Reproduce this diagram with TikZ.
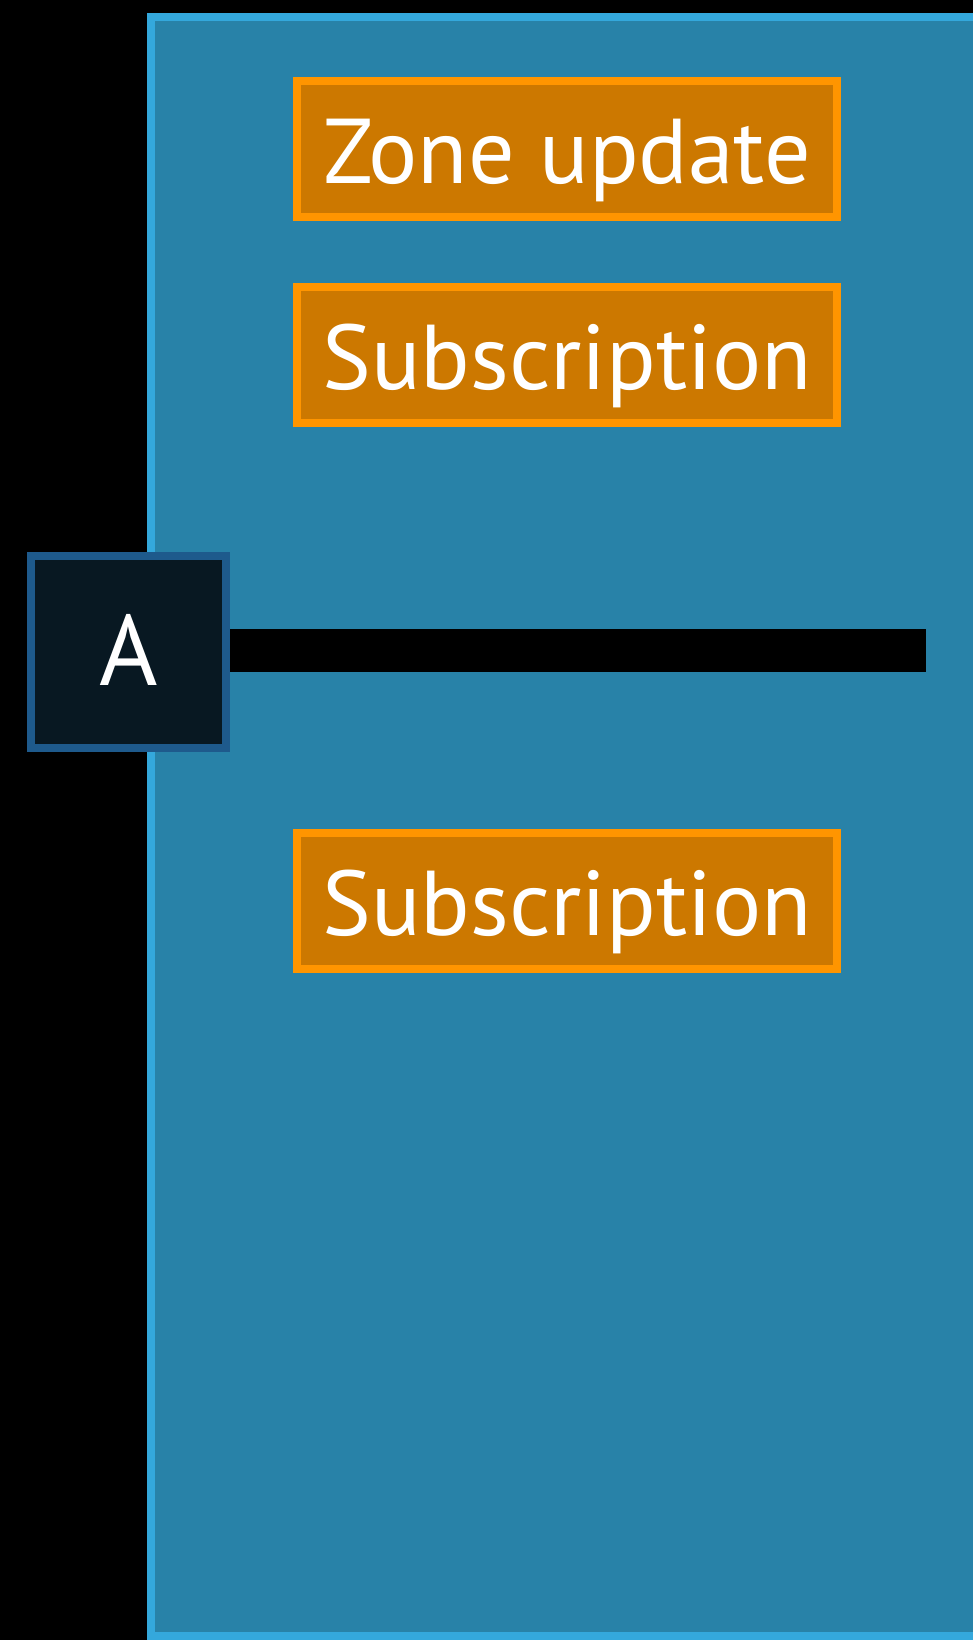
\documentclass[tikz,border=0pt]{standalone}
\usepackage{fontspec}
\setmainfont{PT Sans}
\usepackage{xcolor}
\usepackage{tikz}
\usetikzlibrary{positioning}

\definecolor{panelfill}{HTML}{2882A8}
\definecolor{panelline}{HTML}{34A8DC}
\definecolor{msgfill}{HTML}{CC7800}
\definecolor{msgline}{HTML}{FF9500}
\definecolor{nodefill}{HTML}{081822}
\definecolor{nodeline}{HTML}{1E5A8C}

\begin{document}
\begin{tikzpicture}[
  x=1pt, y=-1pt,
  msg/.style={draw=msgline, fill=msgfill, line width=8pt, minimum width=540pt,
              text height=102pt, text depth=34pt, inner sep=0pt, text=white,
              font=\fontsize{92}{100}\selectfont},
  peer/.style={draw=nodeline, fill=nodefill, line width=8pt, minimum width=195pt,
               text height=129pt, text depth=63pt, inner sep=0pt, text=white,
               font=\fontsize{100}{110}\selectfont},
  bar/.style={line width=43pt, black},
]
  % Hintergrund und Rahmen
  \fill[black] (0,0) rectangle (973,1640);
  \useasboundingbox (0,0) rectangle (973,1640);
  \begin{scope}
    \clip (0,0) rectangle (973,1640);
    \draw[panelline, fill=panelfill, line width=8pt] (151,17) rectangle (1010,1636);
  \end{scope}
  % Nachrichten
  \node[msg] (zone) at (567,149) {Zone update};
  \node[msg] (sub1) at (567,355) {Subscription};
  \node[msg] (sub2) at (567,901) {Subscription};
  % Geraet A und Leitung
  \node[peer] (devA) at (128.5,652) {A};
  \coordinate (barend) at (926,650.5);
  \draw[bar] (devA.east |- barend) -- (barend);
\end{tikzpicture}
\end{document}
